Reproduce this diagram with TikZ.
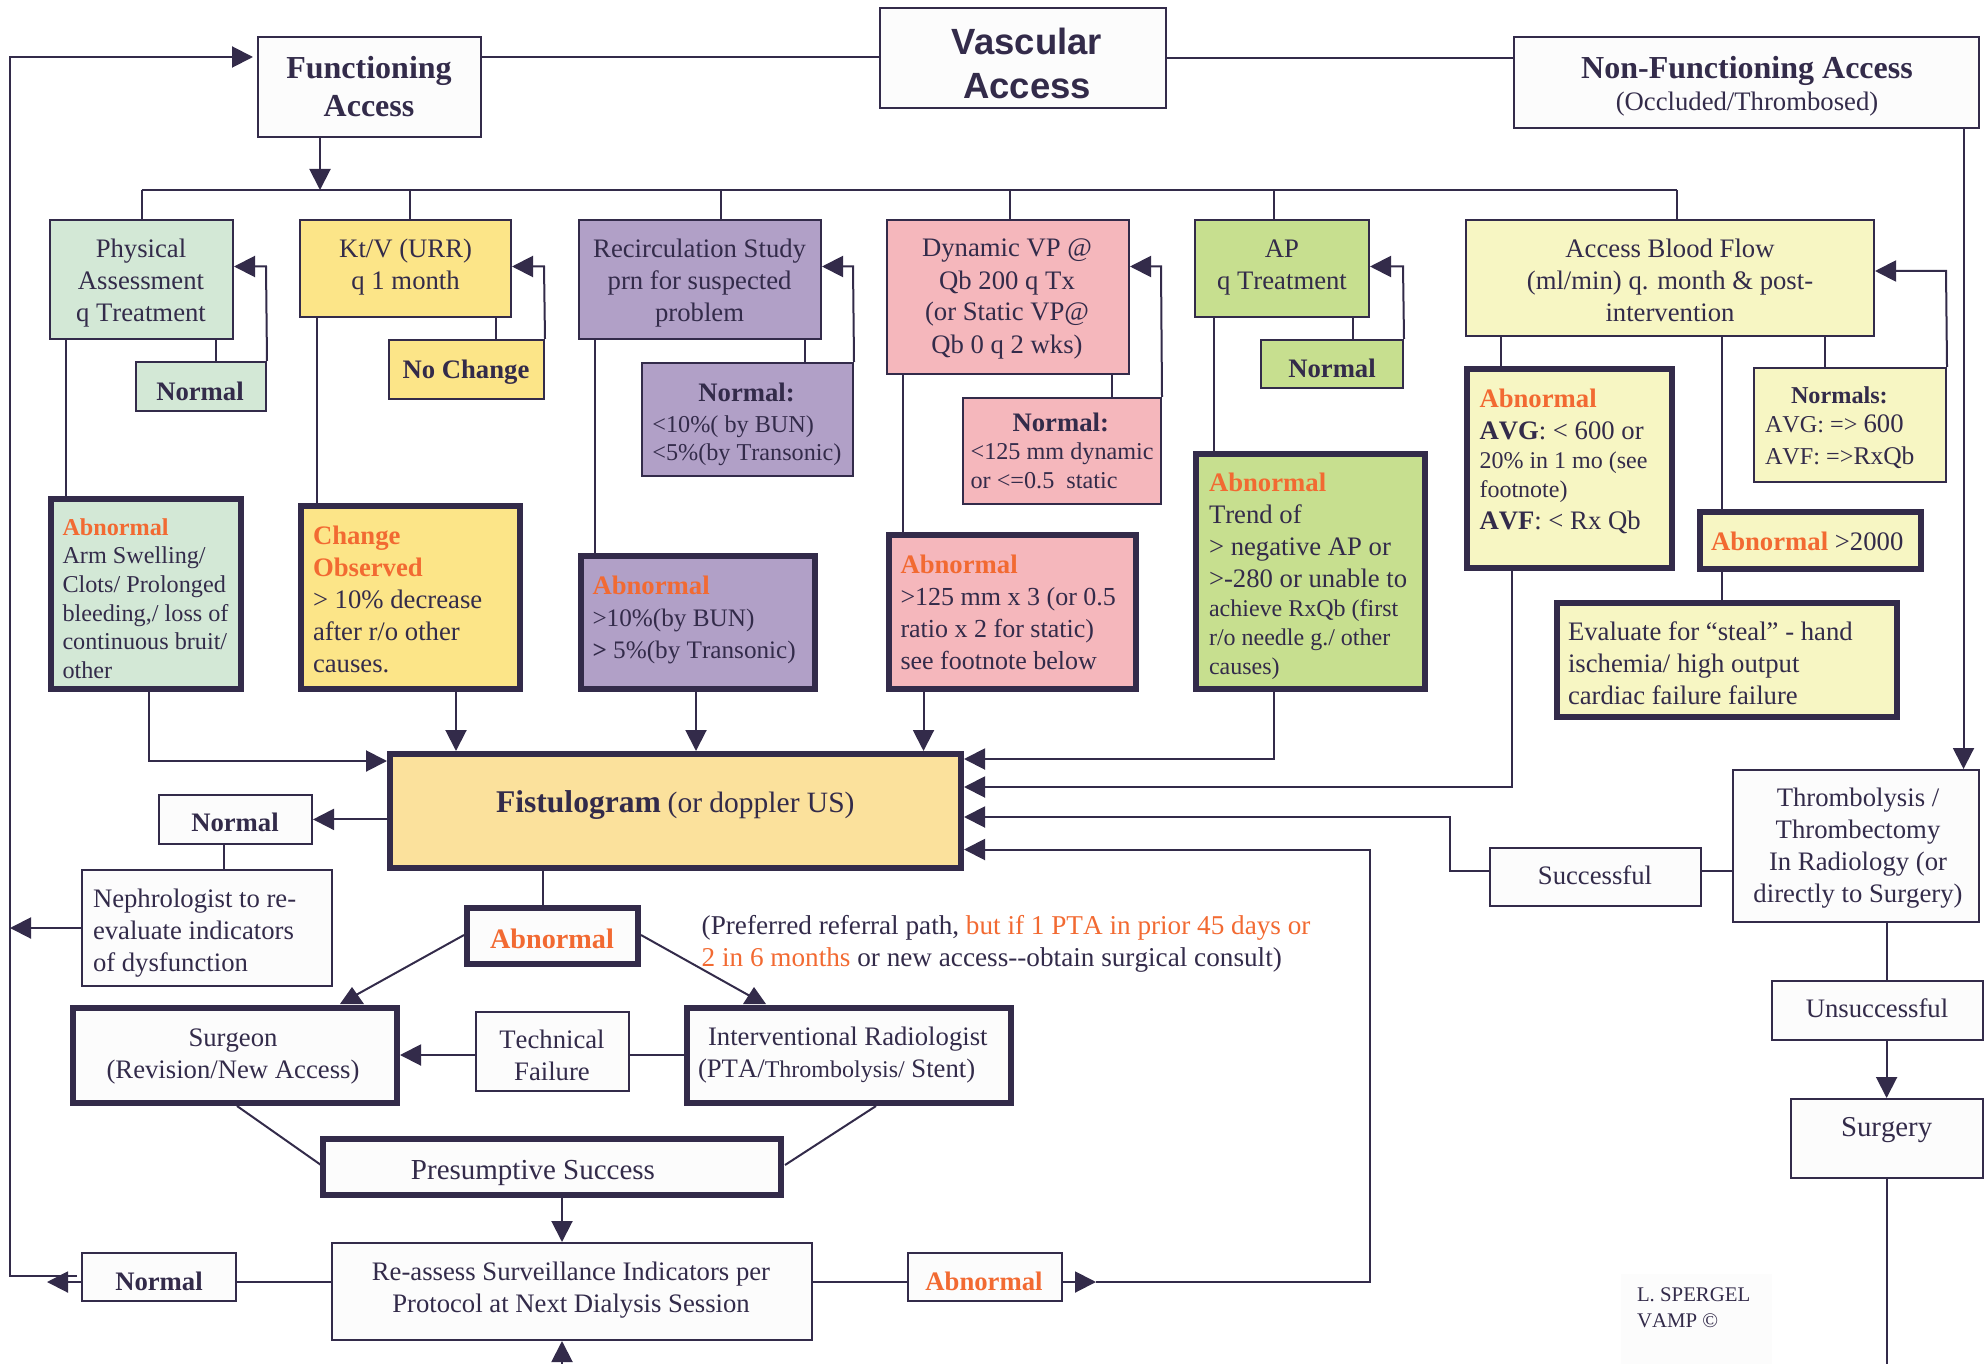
\documentclass[tikz,border=0pt]{standalone}
\usepackage{fontspec}
\setmainfont{Liberation Serif}[Kerning=Off]
\newfontfamily\arialf{Liberation Sans}
\usetikzlibrary{arrows.meta}
\definecolor{ink}{HTML}{332B4A}
\definecolor{offw}{HTML}{FCFCFC}
\definecolor{orng}{HTML}{F26A32}
\definecolor{cgreen}{HTML}{D3E8D6}
\definecolor{cyel}{HTML}{FCE588}
\definecolor{cpur}{HTML}{B1A0C7}
\definecolor{cpink}{HTML}{F5B7BC}
\definecolor{cap}{HTML}{C7DF8F}
\definecolor{cpale}{HTML}{F7F6C3}
\definecolor{cfist}{HTML}{FBE19C}
\newcommand\abn[1]{\textcolor{orng}{\bfseries #1}}
\newcommand\fsm{\fontsize{24}{29}\selectfont}
% style, name, x1,y1,x2,y2, left x of text, first baseline, lines
\newcommand\bl[9]{%
  \pgfmathsetlengthmacro\dxv{(#7-(#3+#5)/2)*1pt}%
  \pgfmathsetlengthmacro\dyv{((#4+#6)/2-(#8))*1pt}%
  \node[#1,minimum width={(#5-#3)*1pt},minimum height={(#6-#4)*1pt}] (#2) at ({(#3+#5)/2},{(#4+#6)/2})
  {\makebox[0pt][l]{\kern\dxv\raisebox{\dyv}[0pt][0pt]{\begin{tabular}[t]{@{}l@{}}#9\end{tabular}}}};}
% same, with centred lines round x = #7
\newcommand\bc[9]{%
  \pgfmathsetlengthmacro\dxv{2*(#7-(#3+#5)/2)*1pt}%
  \pgfmathsetlengthmacro\dyv{((#4+#6)/2-(#8))*1pt}%
  \node[#1,minimum width={(#5-#3)*1pt},minimum height={(#6-#4)*1pt}] (#2) at ({(#3+#5)/2},{(#4+#6)/2})
  {\makebox[0pt][c]{\kern\dxv\raisebox{\dyv}[0pt][0pt]{\begin{tabular}[t]{@{}c@{}}#9\end{tabular}}}};}
\tikzset{
  base/.style={rectangle,draw=ink,fill=offw,text=ink,inner sep=0pt},
  thinbox/.style={base,line width=2pt},
  thickbox/.style={base,line width=6pt},
  f27/.style={font=\fontsize{26.7}{32}\selectfont},
  f24/.style={font=\fontsize{24.2}{28.7}\selectfont},
  bf27/.style={font=\fontsize{26.7}{32}\selectfont\bfseries},
  f32/.style={font=\fontsize{32}{38}\selectfont\bfseries},
  wire/.style={draw=ink,line width=2pt,line join=miter},
  arr/.style={wire,-{Triangle[length=21pt,width=21pt]}},
}
\begin{document}
\begin{tikzpicture}[x=1pt,y=-1pt]
\useasboundingbox (0,0) rectangle (1988,1364);
% top row
\bc{thinbox,f32}{func}{258}{37}{481}{137}{369}{79}{Functioning\\Access}
\bc{thinbox,font=\fontsize{36.5}{44}\selectfont\arialf\bfseries}{vasc}{880}{8}{1166}{108}{1027}{55}{Vascular\\Access}
\bc{thinbox,f32}{nonf}{1514}{37}{1979}{128}{1747}{79}{Non-Functioning Access\\[-6pt]{\mdseries\fontsize{26.7}{32}\selectfont (Occluded/Thrombosed)}}
% test row
\bc{thinbox,f27,fill=cgreen}{phys}{50}{220}{233}{339}{141}{257.6}{Physical\\Assessment\\q Treatment}
\bc{thinbox,f27,fill=cyel}{ktv}{300}{220}{511}{317}{405.6}{257.6}{Kt/V (URR)\\q 1 month}
\bc{thinbox,f27,fill=cpur}{recirc}{579}{220}{821}{339}{699.6}{257.6}{Recirculation Study\\prn for suspected\\problem}
\bc{thinbox,f27,fill=cpink}{dyn}{887}{220}{1129}{374}{1007}{257}{Dynamic VP @\\Qb 200 q Tx\\(or Static VP@\\Qb 0 q 2 wks)}
\bc{thinbox,f27,fill=cap}{ap}{1195}{220}{1369}{317}{1282}{257.6}{AP\\q Treatment}
\bc{thinbox,f27,fill=cpale}{abf}{1466}{220}{1874}{336}{1670}{257.6}{Access Blood Flow\\(ml/min) q. month \& post-\\intervention}
% normal boxes
\bc{thinbox,bf27,fill=cgreen}{nphys}{136}{362}{266}{411}{200}{400}{Normal}
\bc{thinbox,bf27,fill=cyel}{nktv}{389}{340}{544}{399}{466}{378}{No Change}
\bl{thinbox,f24,fill=cpur}{nrec}{642}{363}{853}{476}{652.4}{401.5}{\hspace*{46pt}{\bfseries\fontsize{26.7}{32}\selectfont Normal:}\\[2pt]<10\%( by BUN)\\<5\%(by Transonic)}
\bl{thinbox,f24,fill=cpink}{ndyn}{963}{398}{1161}{504}{970.6}{431}{\hspace*{42pt}{\bfseries\fontsize{26.7}{32}\selectfont Normal:}\\[0pt]<125 mm dynamic\\or <=0.5\ \ static}
\bc{thinbox,bf27,fill=cap}{nap}{1261}{340}{1403}{388}{1332}{377}{Normal}
\bl{thinbox,f24,fill=cpale}{nabf}{1754}{368}{1946}{482}{1765}{403}{\hspace*{26pt}{\bfseries Normals:}\\[1pt]AVG: => {\fontsize{26.7}{32}\selectfont 600}\\[3pt]AVF: =>{\fontsize{25.5}{32}\selectfont RxQb}}
% abnormal boxes
\bl{thickbox,f24,fill=cgreen}{aphys}{51}{499}{241}{689}{62.5}{535}{\abn{Abnormal}\\Arm Swelling/\\Clots/ Prolonged\\bleeding,/ loss of\\continuous bruit/\\other}
\bl{thickbox,f27,fill=cyel}{aktv}{301}{506}{520}{689}{313}{544}{\abn{Change}\\\abn{Observed}\\> 10\% decrease\\after r/o other\\causes.}
\bl{thickbox,f27,fill=cpur}{arec}{581}{556}{815}{689}{592.5}{594}{\abn{Abnormal}\\{\fontsize{25.2}{30}\selectfont >10\%(by BUN)}\\{\fontsize{25.2}{30}\selectfont \textbf{>} 5\%(by Transonic)}}
\bl{thickbox,f27,fill=cpink}{adyn}{889}{535}{1136}{689}{900.5}{573}{\abn{Abnormal}\\{\fontsize{26}{30}\selectfont >125 mm x 3 (or 0.5}\\{\fontsize{26}{30}\selectfont ratio x 2 for static)}\\{\fontsize{26}{30}\selectfont see footnote below}}
\bl{thickbox,f27,fill=cap}{aap}{1196}{454}{1425}{689}{1209}{491}{\abn{Abnormal}\\Trend of\\> negative AP or\\>-280 or unable to\\[-3pt]{\fsm achieve RxQb (first}\\[-3pt]{\fsm r/o needle g./ other}\\[-3pt]{\fsm causes)}}
\bl{thickbox,f27,fill=cpale}{aabf}{1467}{369}{1672}{568}{1479.5}{407}{\abn{Abnormal}\\\textbf{AVG}: < 600 or\\[-3pt]{\fsm 20\% in 1 mo (see}\\[-3pt]{\fsm footnote)}\\\textbf{AVF}: < Rx Qb}
\bl{thickbox,f27,fill=cpale}{ahi}{1700}{512}{1921}{569}{1711}{550}{\abn{Abnormal} >2000}
\bl{thickbox,f27,fill=cpale}{steal}{1557}{603}{1897}{717}{1568}{640}{Evaluate for “steal” - hand\\ischemia/ high output\\cardiac failure failure}
% centre
\bl{thickbox,f27,fill=cfist}{fist}{390}{754}{961}{868}{496}{812}{{\bfseries\fontsize{31.6}{38}\selectfont Fistulogram} {\fontsize{29.5}{34}\selectfont (or doppler US)}}
\bc{thinbox,bf27}{nfist}{159}{795}{312}{844}{235}{831.5}{Normal}
\bl{thinbox,f27}{neph}{82}{870}{332}{986}{93}{907.5}{Nephrologist to re-\\evaluate indicators\\of dysfunction}
\bc{thickbox,font=\fontsize{28.2}{34}\selectfont}{acen}{467}{908}{638}{964}{552}{948}{\abn{Abnormal}}
\node[anchor=base west,inner sep=0pt,text=ink,font=\fontsize{27.2}{32}\selectfont] (pref) at (701.5,934) {\begin{tabular}[t]{@{}l@{}}(Preferred referral path, \textcolor{orng}{but if 1 PTA in prior 45 days or}\\\textcolor{orng}{2 in 6 months} or new access-{}-obtain surgical consult)\end{tabular}};
\bc{thickbox,f27}{surg}{73}{1008}{397}{1103}{233}{1046.5}{Surgeon\\(Revision/New Access)}
\bc{thinbox,f27}{tech}{476}{1012}{629}{1091}{552}{1048}{Technical\\Failure}
\bl{thickbox,f27}{ir}{687}{1008}{1011}{1103}{698}{1045}{\hspace*{10pt}Interventional Radiologist\\(PTA/{\fsm Thrombolysis/} Stent)}
\bc{thickbox,font=\fontsize{29}{32}\selectfont}{pres}{323}{1139}{781}{1195}{533}{1179}{Presumptive Success}
\bc{thinbox,f27}{reas}{332}{1243}{812}{1340}{571}{1280}{Re-assess Surveillance Indicators per\\Protocol at Next Dialysis Session}
\bc{thinbox,bf27}{nbot}{82}{1253}{236}{1301}{159}{1290}{Normal}
\bc{thinbox,f27}{abot}{908}{1253}{1062}{1301}{984}{1290}{\abn{Abnormal}}
% right column
\bc{thinbox,f27}{succ}{1490}{848}{1701}{906}{1595}{884}{Successful}
\bc{thinbox,f27}{thrm}{1733}{770}{1979}{922}{1858}{806}{Thrombolysis /\\Thrombectomy\\In Radiology (or\\directly to Surgery)}
\bc{thinbox,f27}{unsu}{1772}{981}{1983}{1040}{1877}{1017}{Unsuccessful}
\bc{thinbox,font=\fontsize{28.8}{32}\selectfont}{srgy}{1791}{1099}{1983}{1178}{1886.6}{1136}{Surgery}
\bl{draw=none,fill=offw,text=ink,inner sep=0pt,font=\fontsize{20.8}{26.5}\selectfont}{lsp}{1621}{1274}{1772}{1364}{1637}{1301}{L. SPERGEL\\VAMP ©}
% named free ends
\coordinate (busl) at (141.5,190);
\coordinate (busr) at (1677,190);
\coordinate (ftip) at (253,57);
\coordinate (nb) at (77,1276);
\coordinate (rail) at (10,928);
\coordinate (botin) at (562,1364);
\coordinate (botout) at (1886.6,1364);
% connectors at the top
\draw[wire] (func.east |- 0,57) -- (vasc.west |- 0,57);
\draw[wire] (vasc.east |- 0,58) -- (nonf.west |- 0,58);
\draw[arr] (320,0 |- func.south) -- (320,0 |- busl);
\draw[wire] (busl) -- (busr);
\draw[wire] (busl) -- (141.5,0 |- phys.north);
\draw[wire] (409.5,0 |- busl) -- (409.5,0 |- ktv.north);
\draw[wire] (721,0 |- busl) -- (721,0 |- recirc.north);
\draw[wire] (1009.5,0 |- busl) -- (1009.5,0 |- dyn.north);
\draw[wire] (1273.5,0 |- busl) -- (1273.5,0 |- ap.north);
\draw[wire] (busr) -- (1677,0 |- abf.north);
% self loops
\draw[wire] (215.5,0 |- phys.south) -- (215.5,0 |- nphys.north);
\draw[arr] (nphys.north east) -- (266,266.5) -- (phys.east |- 0,266.5);
\draw[wire] (496,0 |- ktv.south) -- (496,0 |- nktv.north);
\draw[arr] (nktv.north east) -- (544,266.5) -- (ktv.east |- 0,266.5);
\draw[wire] (805,0 |- recirc.south) -- (805,0 |- nrec.north);
\draw[arr] (nrec.north east) -- (853,266.5) -- (recirc.east |- 0,266.5);
\draw[wire] (1111.5,0 |- dyn.south) -- (1111.5,0 |- ndyn.north);
\draw[arr] (ndyn.north east) -- (1161,266.5) -- (dyn.east |- 0,266.5);
\draw[wire] (1353,0 |- ap.south) -- (1353,0 |- nap.north);
\draw[arr] (nap.north east) -- (1403,266.5) -- (ap.east |- 0,266.5);
\draw[wire] (1825,0 |- abf.south) -- (1825,0 |- nabf.north);
\draw[arr] (nabf.north east) -- (1946,271) -- (abf.east |- 0,271);
% down to the abnormal boxes
\draw[wire] (65.7,0 |- phys.south) -- (65.7,0 |- aphys.north);
\draw[wire] (317,0 |- ktv.south) -- (317,0 |- aktv.north);
\draw[wire] (595,0 |- recirc.south) -- (595,0 |- arec.north);
\draw[wire] (903,0 |- dyn.south) -- (903,0 |- adyn.north);
\draw[wire] (1214,0 |- ap.south) -- (1214,0 |- aap.north);
\draw[wire] (1501,0 |- abf.south) -- (1501,0 |- aabf.north);
\draw[wire] (1721.5,0 |- abf.south) -- (1721.5,0 |- ahi.north);
\draw[wire] (1721.5,0 |- ahi.south) -- (1721.5,0 |- steal.north);
% into the fistulogram
\draw[arr] (148.6,0 |- aphys.south) |- (fist.west |- 0,761);
\draw[arr] (456,0 |- aktv.south) -- (456,0 |- fist.north);
\draw[arr] (696,0 |- arec.south) -- (696,0 |- fist.north);
\draw[arr] (923.5,0 |- adyn.south) -- (923.5,0 |- fist.north);
\draw[arr] (1273.5,0 |- aap.south) |- (fist.east |- 0,759);
\draw[arr] (1512,0 |- aabf.south) |- (fist.east |- 0,787);
\draw[arr] (succ.west |- 0,871) -- (1450,871) -- (1450,817) -- (fist.east |- 0,817);
\draw[wire] (thrm.west |- 0,871) -- (succ.east |- 0,871);
\draw[arr] (abot.east |- 0,1282) -- (1096,1282);
\draw[arr] (1096,1282) -- (1370,1282) -- (1370,849.5) -- (fist.east |- 0,849.5);
% fistulogram outcomes
\draw[arr] (fist.west |- 0,819.4) -- (nfist.east |- 0,819.4);
\draw[wire] (224,0 |- nfist.south) -- (224,0 |- neph.north);
\draw[arr] (neph.west |- 0,928) -- (rail);
\draw[wire] (543,0 |- fist.south) -- (543,0 |- acen.north);
\draw[wire] (acen.west |- 0,935) -- (356,995);
\fill[ink] (352,987) -- (364,1004) -- (340,1004) -- cycle;
\draw[wire] (acen.east |- 0,935) -- (750,996);
\fill[ink] (754,987) -- (766,1004) -- (743,1004) -- cycle;
\draw[arr] (tech.west |- 0,1055) -- (surg.east |- 0,1055);
\draw[wire] (tech.east |- 0,1055) -- (ir.west |- 0,1055);
\draw[wire] (237,0 |- surg.south) -- (321,1165);
\draw[wire] (876,0 |- ir.south) -- (785,1165);
\draw[arr] (562,0 |- pres.south) -- (562,0 |- reas.north);
\draw[arr] (botin) -- (562,0 |- reas.south);
\draw[wire] (reas.west |- 0,1282) -- (nbot.east |- 0,1282);
\draw[wire] (reas.east |- 0,1282) -- (abot.west |- 0,1282);
% left rail
\draw[arr] (nbot.west |- 0,1282) -- (47,1282);
\draw[arr] (nb) -- (10,1276) -- (10,57) -- (ftip);
% right column
\draw[arr] (1963.5,0 |- nonf.south) -- (1963.5,0 |- thrm.north);
\draw[wire] (1886.6,0 |- thrm.south) -- (1886.6,0 |- unsu.north);
\draw[arr] (1886.6,0 |- unsu.south) -- (1886.6,0 |- srgy.north);
\draw[wire] (1886.6,0 |- srgy.south) -- (botout);
\end{tikzpicture}
\end{document}
